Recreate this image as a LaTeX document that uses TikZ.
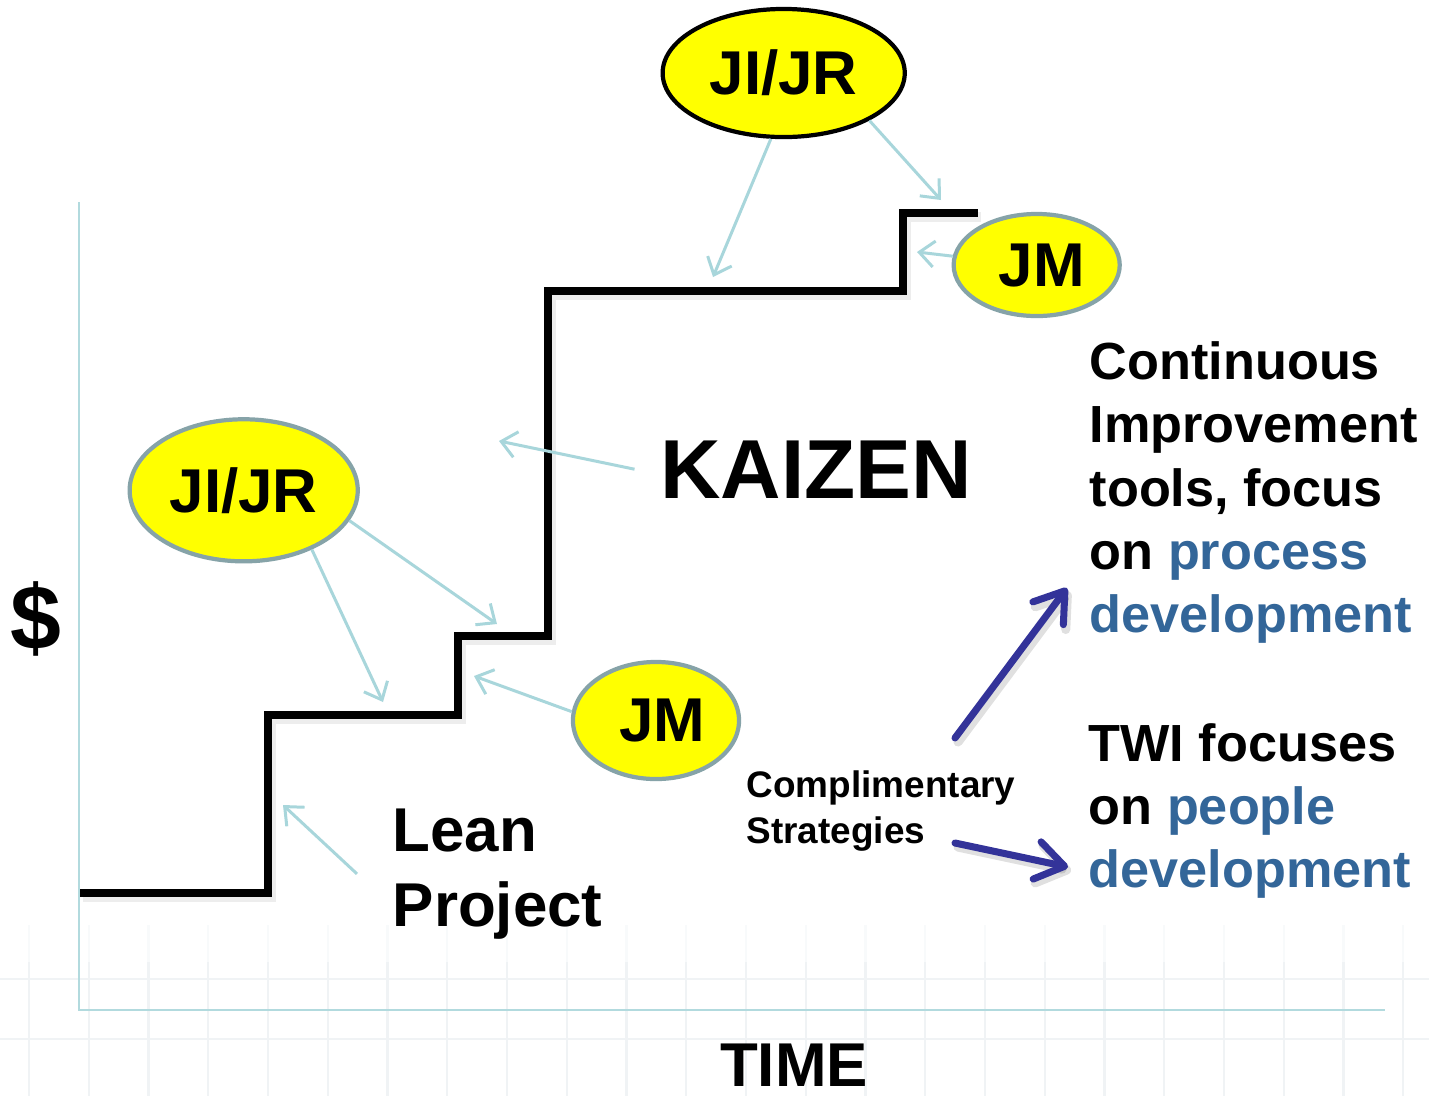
\documentclass[tikz,border=0pt]{standalone}
\usepackage{fontspec}
\setmainfont{Liberation Sans}
\usetikzlibrary{shapes.geometric,arrows.meta}

\definecolor{axisblue}{RGB}{178,218,222}
\definecolor{hintblue}{RGB}{168,214,219}
\definecolor{bubblefill}{RGB}{255,255,0}
\definecolor{bubblerim}{RGB}{134,163,168}
\definecolor{focusblue}{RGB}{51,102,153}
\definecolor{strategyblue}{RGB}{51,51,153}
\definecolor{gridgrey}{RGB}{240,243,245}
\definecolor{gridfade}{RGB}{248,250,251}

\newcommand\sizept[2]{\fontsize{#1pt}{#2pt}\selectfont}

\begin{document}
\begin{tikzpicture}[x=0.01cm, y=-0.01cm,
  stairroute/.style={insert path={(80,893) -- (268,893) -- (268,715) -- (458,715)
      -- (458,636) -- (548,636) -- (548,291) -- (903,291) -- (903,213) -- (978,213)}},
  stairline/.style={draw=black, line width=2pt},
  stairshadow/.style={draw=black, opacity=0.07, line width=3pt,
      transform canvas={xshift=0.025cm, yshift=-0.04cm}},
  bubble/.style={ellipse, fill=bubblefill, line width=1.2pt, inner sep=0pt,
      font=\bfseries\sizept{17.6}{21}},
  hint/.style={draw=hintblue, line width=0.85pt,
      -{Straight Barb[length=0.15cm, width=0.26cm]}},
  strategy/.style={draw=strategyblue, line width=2pt, line cap=round,
      -{Straight Barb[length=0.28cm, width=0.38cm, round]}},
  strategyshadow/.style={draw=black, opacity=0.12, line width=2.6pt, line cap=round,
      -{Straight Barb[length=0.28cm, width=0.38cm, round]},
      transform canvas={xshift=0.03cm, yshift=-0.04cm}},
  textblock/.style={align=left, inner sep=0pt, font=\bfseries}
]
\useasboundingbox (0,0) rectangle (1429,1096);
\fill[white] (0,0) rectangle (1429,1096);

% faint grid near the foot of the chart
\foreach \k in {0,...,23}{
  \pgfmathsetmacro\gx{29+59.75*\k}
  \draw[gridfade, line width=0.6pt] (\gx,925) -- (\gx,962);
  \draw[gridgrey, line width=0.6pt] (\gx,962) -- (\gx,1096);
}
\draw[gridgrey, line width=0.6pt] (0,979) -- (1429,979) (0,1039) -- (1429,1039);

% axes
\draw[axisblue, line width=0.6pt] (79,202) -- (79,1010) -- (1385,1010);

% improvement staircase with its shadow
\path[stairshadow, stairroute];
\path[stairline, stairroute];

% points on the staircase that the hints aim at
\coordinate (t1) at (713,277);
\coordinate (t2) at (941,200);
\coordinate (t3) at (917,252);
\coordinate (t4) at (499,441);
\coordinate (t5) at (497,624);
\coordinate (t6) at (383,702);
\coordinate (t7) at (474,676);
\coordinate (t8) at (283,805);

% bubbles
\node[bubble, draw=black, minimum width=2.42cm, minimum height=1.28cm] (jrtop) at (783.7,73) {JI/JR};
\node[bubble, draw=bubblerim, minimum width=1.66cm, minimum height=1.02cm] (jmtop) at (1036.7,265) {\hspace*{0.1cm}JM};
\node[bubble, draw=bubblerim, minimum width=2.28cm, minimum height=1.42cm] (jrleft) at (243.7,490.3) {JI/JR};
\node[bubble, draw=bubblerim, minimum width=1.66cm, minimum height=1.17cm] (jmmid) at (656,720.5) {\hspace*{0.12cm}JM};

% labels
\node[inner sep=0pt, font=\bfseries\sizept{26}{30}] (dollar) at (36,619) {\$};
\node[inner sep=0pt, font=\bfseries\sizept{17.6}{21}, anchor=base] (time) at (794,1086) {TIME};
\node[inner ysep=0pt, inner xsep=0.25cm, font=\bfseries\sizept{23.8}{28}, anchor=base] (kaizen) at (816,498) {KAIZEN};
\node[textblock, inner xsep=0.35cm, anchor=north west, font=\bfseries\sizept{17.6}{21.3}] (lean) at (357,808) {Lean\\Project};
\node[textblock, anchor=north west, font=\bfseries\sizept{10.5}{13.1}] (comp) at (746,770) {Complimentary\\Strategies};
\node[textblock, anchor=north west, font=\bfseries\sizept{14.86}{18}] (ci) at (1089,341)
  {Continuous\\Improvement\\tools, focus\\on \textcolor{focusblue}{process}\\\textcolor{focusblue}{development}};
\node[textblock, anchor=north west, font=\bfseries\sizept{14.86}{17.9}] (twi) at (1088,723)
  {TWI focuses\\on \textcolor{focusblue}{people}\\\textcolor{focusblue}{development}};

% hints from the tools to the steps
\draw[hint] (jrtop.259.3) -- (t1);
\draw[hint] (jrtop.331.7) -- (t2);
\draw[hint] (jmtop.174.5) -- (t3);
\draw[hint] (kaizen.west) -- (t4);
\draw[hint] (jrleft.344.7) -- (t5);
\draw[hint] (jrleft.319.3) -- (t6);
\draw[hint] (jmmid.174.9) -- (t7);
\draw[hint] (lean.west) -- (t8);

% complementary strategies
\coordinate (cs1) at (955,738);
\coordinate (cs2) at (955,843);
\coordinate (cd1) at (1067,588);
\coordinate (cd2) at (1068,867);
\draw[strategyshadow] (cs1) -- (cd1);
\draw[strategyshadow] (cs2) -- (cd2);
\draw[strategy] (cs1) -- (cd1);
\draw[strategy] (cs2) -- (cd2);
\end{tikzpicture}
\end{document}
